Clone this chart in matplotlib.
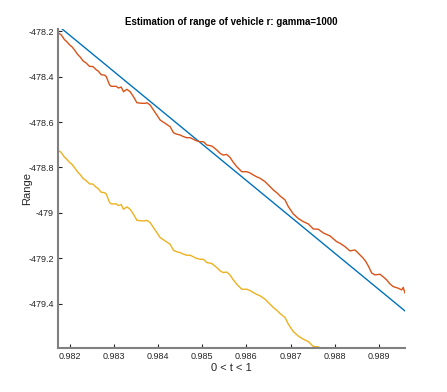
import matplotlib
matplotlib.use("Agg")
import matplotlib.pyplot as plt

plt.rcParams['font.family'] = ['Liberation Sans', 'DejaVu Sans']

# time values (0 < t < 1)
t_est = [0.981745, 0.981812, 0.981887, 0.981925, 0.982000, 0.982061, 0.982113, 0.982190,
         0.982242, 0.982303, 0.982377, 0.982452, 0.982529, 0.982604, 0.982649, 0.982717,
         0.982784, 0.982830, 0.982904, 0.982943, 0.983056, 0.983108, 0.983169, 0.983221,
         0.983297, 0.983372, 0.983447, 0.983524, 0.983637, 0.983711, 0.983750, 0.983824,
         0.983899, 0.983976, 0.984050, 0.984118, 0.984186, 0.984276, 0.984351, 0.984412,
         0.984502, 0.984570, 0.984654, 0.984728, 0.984803, 0.984864, 0.984954, 0.985029,
         0.985106, 0.985219, 0.985332, 0.985406, 0.985474, 0.985558, 0.985632, 0.985700,
         0.985784, 0.985897, 0.986010, 0.986085, 0.986159, 0.986220, 0.986311, 0.986424,
         0.986537, 0.986611, 0.986695, 0.986763, 0.986876, 0.986950, 0.987063, 0.987176,
         0.987289, 0.987402, 0.987515, 0.987628, 0.987741, 0.987893, 0.988044, 0.988119,
         0.988232, 0.988345, 0.988458, 0.988571, 0.988646, 0.988707, 0.988759, 0.988835,
         0.988910, 0.989023, 0.989098, 0.989175, 0.989249, 0.989324, 0.989437, 0.989514,
         0.989550, 0.989588]

# estimated range (orange)
range_est = [-478.2088, -478.2163, -478.2382, -478.2440, -478.2602, -478.2703, -478.2835, -478.3042,
             -478.3143, -478.3305, -478.3407, -478.3552, -478.3560, -478.3701, -478.3758, -478.3921,
             -478.3934, -478.3991, -478.4360, -478.4431, -478.4431, -478.4505, -478.4462, -478.4668,
             -478.4563, -478.4668, -478.4888, -478.5152, -478.5178, -478.5178, -478.5152, -478.5253,
             -478.5473, -478.5692, -478.5912, -478.6000, -478.6088, -478.6207, -478.6470, -478.6527,
             -478.6571, -478.6637, -478.6690, -478.6690, -478.6760, -478.6822, -478.6866, -478.6866,
             -478.7011, -478.7055, -478.7231, -478.7376, -478.7451, -478.7429, -478.7560, -478.7758,
             -478.7965, -478.8185, -478.8185, -478.8242, -478.8330, -478.8396, -478.8475, -478.8624,
             -478.8844, -478.8989, -478.9121, -478.9253, -478.9429, -478.9723, -479.0044, -479.0242,
             -479.0382, -479.0484, -479.0703, -479.0716, -479.0879, -479.1011, -479.1262, -479.1332,
             -479.1481, -479.1670, -479.1626, -479.1846, -479.1991, -479.2154, -479.2330, -479.2637,
             -479.2725, -479.2695, -479.2813, -479.2945, -479.3121, -479.3240, -479.3310, -479.3385,
             -479.3275, -479.3516]

# lower estimate (yellow), same times up to where it leaves the axes
t_low = t_est[:77]
range_low = [-478.7258, -478.7333, -478.7552, -478.7610, -478.7772, -478.7873, -478.8005, -478.8212,
             -478.8313, -478.8475, -478.8577, -478.8722, -478.8730, -478.8871, -478.8928, -478.9091,
             -478.9104, -478.9161, -478.9530, -478.9601, -478.9601, -478.9675, -478.9632, -478.9838,
             -478.9733, -478.9838, -479.0058, -479.0322, -479.0348, -479.0348, -479.0322, -479.0423,
             -479.0643, -479.0862, -479.1082, -479.1170, -479.1258, -479.1377, -479.1640, -479.1697,
             -479.1741, -479.1807, -479.1860, -479.1860, -479.1930, -479.1992, -479.2036, -479.2036,
             -479.2181, -479.2225, -479.2401, -479.2546, -479.2621, -479.2599, -479.2730, -479.2928,
             -479.3135, -479.3355, -479.3355, -479.3412, -479.3500, -479.3566, -479.3645, -479.3794,
             -479.4014, -479.4159, -479.4291, -479.4423, -479.4599, -479.4893, -479.5214, -479.5412,
             -479.5552, -479.5654, -479.5873, -479.5886, -479.6049]

# true range (blue straight line)
t_true = [0.981700, 0.989588]
range_true = [-478.1696, -479.4308]

xticks = [0.982, 0.983, 0.984, 0.985, 0.986, 0.987, 0.988, 0.989]
xtick_labels = ['0.982', '0.983', '0.984', '0.985', '0.986', '0.987', '0.988', '0.989']
yticks = [-479.4, -479.2, -479.0, -478.8, -478.6, -478.4, -478.2]
ytick_labels = ['-479.4', '-479.2', '-479', '-478.8', '-478.6', '-478.4', '-478.2']

fig = plt.figure(figsize=(4.47, 3.92), dpi=100)
ax = fig.add_axes([0.1298, 0.1122, 0.7763, 0.8138])

ax.plot(t_true, range_true, color='#0072BD', lw=1.0)
ax.plot(t_est, range_est, color='#D95319', lw=1.0)
ax.plot(t_low, range_low, color='#EDB120', lw=1.0)

ax.set_xlim(0.98174, 0.98959)
ax.set_ylim(-479.594, -478.191)
ax.set_xticks(xticks)
ax.set_xticklabels(xtick_labels)
ax.set_yticks(yticks)
ax.set_yticklabels(ytick_labels)

for s in ['top', 'right']:
    ax.spines[s].set_visible(False)
for s in ['left', 'bottom']:
    ax.spines[s].set_color('#808080')
    ax.spines[s].set_linewidth(1.5)
ax.tick_params(direction='in', length=3, width=0.8, color='#262626',
               labelsize=6.5, labelcolor='#262626', pad=3)

ax.set_title('Estimation of range of vehicle r: gamma=1000', fontsize=7,
             fontweight='bold', color='#000000', pad=3)
ax.set_xlabel('0 < t < 1', fontsize=8, color='#262626', labelpad=1)
ax.set_ylabel('Range', fontsize=8, color='#262626', labelpad=-3)

fig.savefig('out.png', dpi=100)
